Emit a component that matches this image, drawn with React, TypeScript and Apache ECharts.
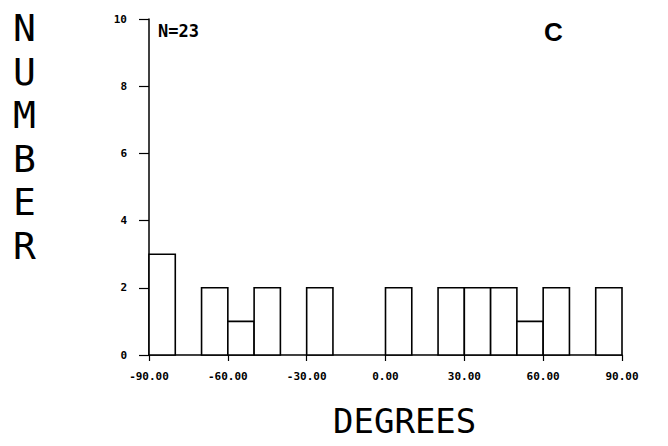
import React, { useEffect, useRef } from "react";
import * as echarts from "echarts";

const binStarts = [-90, -80, -70, -60, -50, -40, -30, -20, -10, 0, 10, 20, 30, 40, 50, 60, 70, 80];
const counts = [3, 0, 2, 1, 2, 0, 2, 0, 0, 2, 0, 2, 2, 2, 1, 2, 0, 2];
const binWidth = 10;
const xTicks = [-90, -60, -30, 0, 30, 60, 90];
const yTicks = [0, 2, 4, 6, 8, 10];
const yLetters = ["N", "U", "M", "B", "E", "R"];
const nLabel = "N=23";
const panelLabel = "C";
const xTitle = "DEGREES";

export default function App() {
  const ref = useRef<HTMLDivElement>(null);
  useEffect(() => {
    if (!ref.current) return;
    const chart = echarts.init(ref.current, null, { renderer: "svg" });
    const data = binStarts
      .map((s, i) => [s, s + binWidth, counts[i]])
      .filter((d) => d[2] > 0);
    const mono = "DejaVu Sans Mono";
    chart.setOption({
      animation: false,
      backgroundColor: "#ffffff",
      grid: { left: 149, right: 46, top: 19, bottom: 91 },
      xAxis: {
        type: "value",
        min: xTicks[0],
        max: xTicks[xTicks.length - 1],
        interval: 30,
        axisLine: { onZero: false, lineStyle: { color: "#000", width: 1.5 } },
        axisTick: { show: true, length: 6, lineStyle: { color: "#000", width: 1.2 } },
        splitLine: { show: false },
        axisLabel: {
          color: "#000",
          fontFamily: mono,
          fontWeight: "bold",
          fontSize: 11,
          margin: 16,
          formatter: (v: number) => v.toFixed(2),
        },
      },
      yAxis: {
        type: "value",
        min: yTicks[0],
        max: yTicks[yTicks.length - 1],
        interval: 2,
        axisLine: { show: true, onZero: false, lineStyle: { color: "#000", width: 1.5 } },
        axisTick: { show: true, length: 10, lineStyle: { color: "#000", width: 1.2 } },
        splitLine: { show: false },
        axisLabel: {
          color: "#000",
          fontFamily: mono,
          fontWeight: "bold",
          fontSize: 11,
          margin: 22,
        },
      },
      series: [
        {
          type: "custom",
          data,
          renderItem: (params: any, api: any) => {
            const lo = api.value(0);
            const hi = api.value(1);
            const c = api.value(2);
            const p0 = api.coord([lo, 0]);
            const p1 = api.coord([hi, c]);
            return {
              type: "rect",
              shape: { x: p0[0], y: p1[1], width: p1[0] - p0[0], height: p0[1] - p1[1] },
              style: { fill: "#ffffff", stroke: "#000000", lineWidth: 1.6 },
            };
          },
        },
      ],
      graphic: [
        ...yLetters.map((l, i) => ({
          type: "text",
          left: 13,
          top: 9 + i * 43.5,
          style: { text: l, font: `normal 38px "${mono}"`, fill: "#000" },
        })),
        {
          type: "text",
          left: 158,
          top: 22,
          style: { text: nLabel, font: `bold 17px "${mono}"`, fill: "#000" },
        },
        {
          type: "text",
          left: 544,
          top: 19,
          style: { text: panelLabel, font: `bold 26px Arial, "Liberation Sans"`, fill: "#000" },
        },
        {
          type: "text",
          left: 333,
          top: 404,
          style: { text: xTitle, font: `normal 34px "${mono}"`, fill: "#000" },
        },
      ],
    });
    return () => chart.dispose();
  }, []);
  return (
    <div
      ref={ref}
      style={{ position: "fixed", left: 0, top: 0, width: 668, height: 446 }}
    />
  );
}
